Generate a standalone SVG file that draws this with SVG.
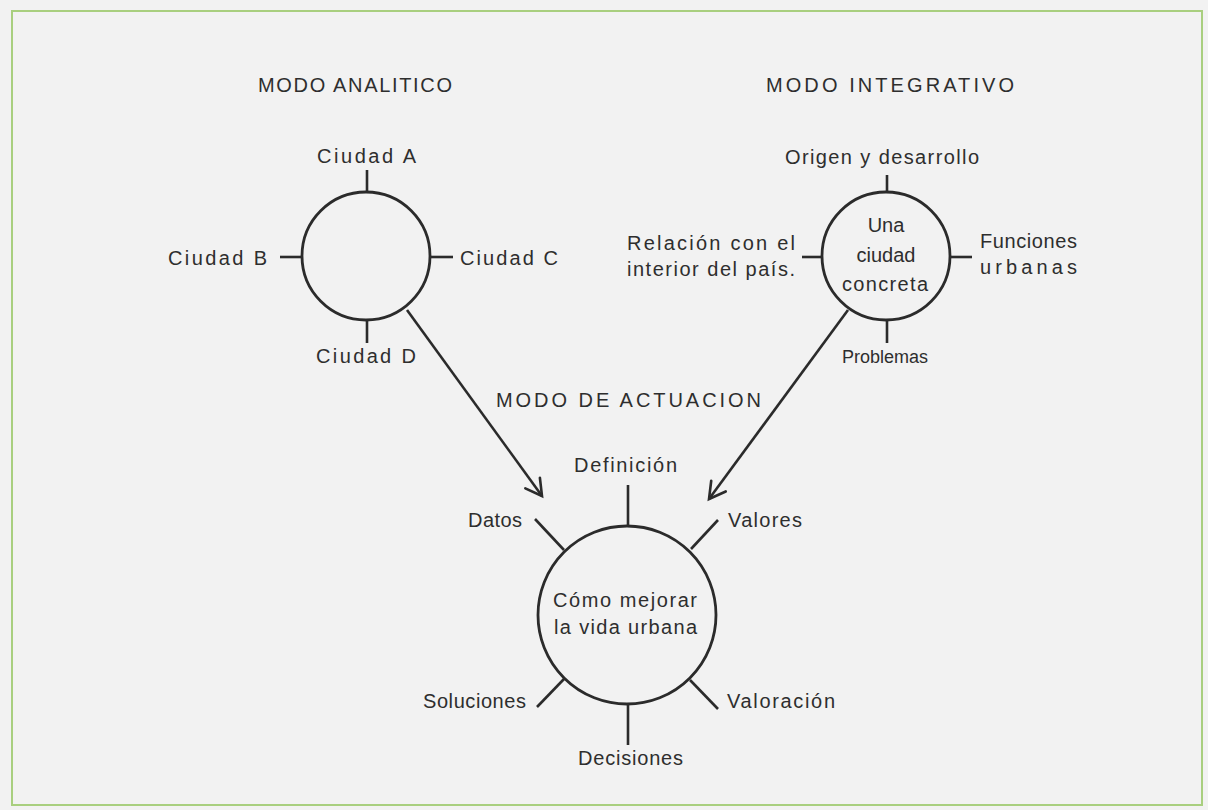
<svg xmlns="http://www.w3.org/2000/svg" width="1208" height="810" viewBox="0 0 1208 810">
<style>
.t{font-family:"Liberation Sans",Arial,sans-serif;font-size:20px;fill:#2e2e2e;}
.s{font-size:18px;}
.c{text-anchor:middle;}
.ln{stroke:#2b2b2b;stroke-width:2.6;fill:none;stroke-linecap:butt;}
.circ{stroke:#2b2b2b;stroke-width:2.8;fill:none;}
</style>
<defs>
<marker id="arr" markerUnits="userSpaceOnUse" viewBox="-20 -12 24 24" markerWidth="24" markerHeight="24" refX="0" refY="0" orient="auto" overflow="visible">
<path d="M -16 -9 L 0 0 L -16 9" fill="none" stroke="#2b2b2b" stroke-width="2.6" stroke-linejoin="miter" stroke-linecap="round"/>
</marker>
</defs>
<rect width="1208" height="810" fill="#f2f2f2"/>
<rect x="12" y="11" width="1190" height="794" fill="none" stroke="#a9cf7f" stroke-width="2"/>

<g id="title-analitico"><text class="t" x="258" y="92" textLength="194" lengthAdjust="spacing">MODO ANALITICO</text></g>
<g id="title-integrativo"><text class="t" x="766" y="92" textLength="248" lengthAdjust="spacing">MODO INTEGRATIVO</text></g>
<g id="title-actuacion"><text class="t" x="496" y="407" textLength="265" lengthAdjust="spacing">MODO DE ACTUACION</text></g>

<g id="node-analitico">
<circle class="circ" cx="366" cy="256" r="64"/>
<line class="ln" x1="367" y1="170" x2="367" y2="192"/>
<line class="ln" x1="280" y1="257" x2="302" y2="257"/>
<line class="ln" x1="430" y1="257" x2="453" y2="257"/>
<line class="ln" x1="367" y1="320" x2="367" y2="343"/>
<text class="t" x="317" y="163" textLength="99" lengthAdjust="spacing">Ciudad  A</text>
<text class="t" x="168" y="265" textLength="99" lengthAdjust="spacing">Ciudad  B</text>
<text class="t" x="460" y="265" textLength="98" lengthAdjust="spacing">Ciudad  C</text>
<text class="t" x="316" y="363" textLength="100" lengthAdjust="spacing">Ciudad  D</text>
</g>

<g id="node-integrativo">
<circle class="circ" cx="886" cy="256" r="64"/>
<line class="ln" x1="887" y1="175" x2="887" y2="192"/>
<line class="ln" x1="802" y1="257" x2="822" y2="257"/>
<line class="ln" x1="950" y1="257" x2="972" y2="257"/>
<line class="ln" x1="887" y1="320" x2="887" y2="343"/>
<text class="t" x="785" y="164" textLength="194" lengthAdjust="spacing">Origen y desarrollo</text>
<text class="t" x="627" y="250" textLength="168" lengthAdjust="spacing">Relación  con el</text>
<text class="t" x="627" y="276" textLength="168" lengthAdjust="spacing">interior del país.</text>
<text class="t" x="980" y="248" textLength="97" lengthAdjust="spacing">Funciones</text>
<text class="t" x="980" y="274" textLength="97" lengthAdjust="spacing">urbanas</text>
<text class="t c" x="886" y="232">Una</text>
<text class="t c" x="886" y="262">ciudad</text>
<text class="t" x="842" y="291" textLength="86" lengthAdjust="spacing">concreta</text>
<text class="t s" x="842" y="363">Problemas</text>
</g>

<g id="node-actuacion">
<circle class="circ" cx="627" cy="615" r="89"/>
<line class="ln" x1="628" y1="485" x2="628" y2="526"/>
<line class="ln" x1="628" y1="704" x2="628" y2="745"/>
<line class="ln" x1="535" y1="519" x2="564" y2="550"/>
<line class="ln" x1="718" y1="520" x2="691" y2="549"/>
<line class="ln" x1="537" y1="707" x2="564" y2="679"/>
<line class="ln" x1="718" y1="709" x2="690" y2="680"/>
<text class="t" x="574" y="472" textLength="103" lengthAdjust="spacing">Definición</text>
<text class="t" x="468" y="527" textLength="54" lengthAdjust="spacing">Datos</text>
<text class="t" x="728" y="527" textLength="74" lengthAdjust="spacing">Valores</text>
<text class="t" x="423" y="708" textLength="103" lengthAdjust="spacing">Soluciones</text>
<text class="t" x="727" y="708" textLength="108" lengthAdjust="spacing">Valoración</text>
<text class="t" x="578" y="765" textLength="105" lengthAdjust="spacing">Decisiones</text>
<text class="t" x="553" y="607" textLength="144" lengthAdjust="spacing">Cómo  mejorar</text>
<text class="t" x="554" y="634" textLength="143" lengthAdjust="spacing">la vida urbana</text>
</g>

<g id="connectors">
<line class="ln" x1="407" y1="310" x2="542" y2="496" marker-end="url(#arr)"/>
<line class="ln" x1="848" y1="310" x2="709" y2="499" marker-end="url(#arr)"/>
</g>
</svg>
